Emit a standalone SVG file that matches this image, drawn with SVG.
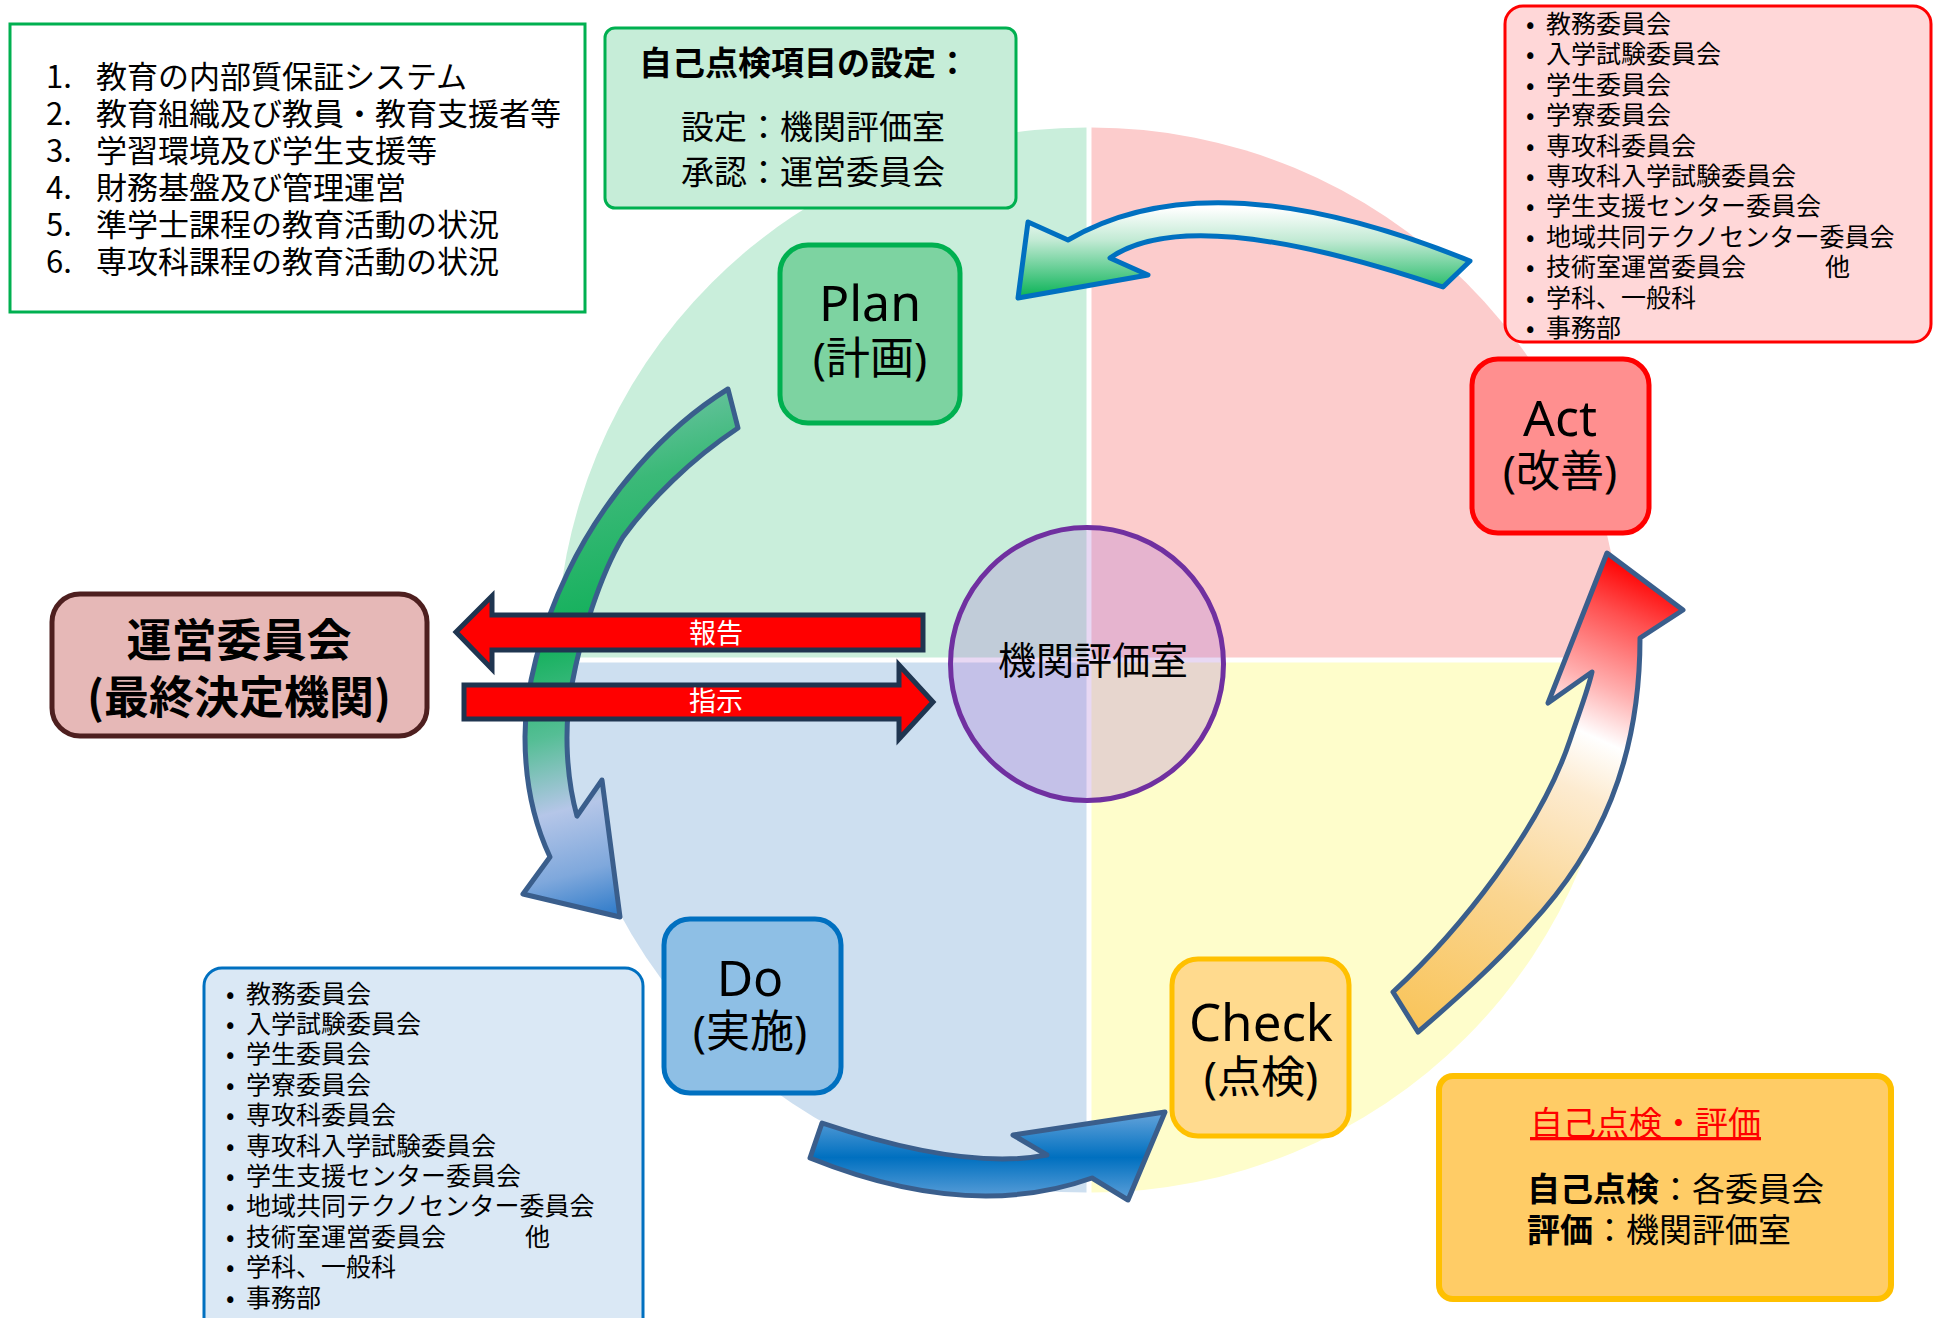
<svg xmlns="http://www.w3.org/2000/svg" width="1943" height="1318" viewBox="0 0 1943 1318">
<defs>
<style>
.t{font-family:"Noto Sans CJK JP","Noto Sans",sans-serif;fill:#000}
.lbl{font-family:"Noto Sans","Noto Sans CJK JP",sans-serif;text-anchor:middle;fill:#000}
.li{font-size:25px}
.ln{font-size:31px}
.cur{stroke:#3A5E8C;stroke-width:5;stroke-linejoin:round}
.red{fill:#FF0000;stroke:#1F3550;stroke-width:5;stroke-linejoin:miter}
.node{stroke-width:5}
.rl{font-family:"Noto Sans CJK JP",sans-serif;font-size:27px;fill:#fff;text-anchor:middle}
</style>
<linearGradient id="gTop" gradientUnits="userSpaceOnUse" x1="0" y1="208" x2="0" y2="300">
<stop offset="0" stop-color="#FFFFFF"/><stop offset="0.35" stop-color="#C2EAD4"/><stop offset="1" stop-color="#00B050"/>
</linearGradient>
<linearGradient id="gLeft" gradientUnits="userSpaceOnUse" x1="520" y1="400" x2="660" y2="917">
<stop offset="0" stop-color="#7CC7B0"/><stop offset="0.2" stop-color="#3BB978"/><stop offset="0.45" stop-color="#12B05A"/><stop offset="0.62" stop-color="#55BE95"/><stop offset="0.76" stop-color="#B5C6E8"/><stop offset="0.88" stop-color="#7FA8DC"/><stop offset="1" stop-color="#1A6FC4"/>
</linearGradient>
<linearGradient id="gBot" gradientUnits="userSpaceOnUse" x1="0" y1="1110" x2="0" y2="1205">
<stop offset="0" stop-color="#6AA6DC"/><stop offset="0.5" stop-color="#0070C0"/><stop offset="1" stop-color="#6AA6DC"/>
</linearGradient>
<linearGradient id="gRight" gradientUnits="userSpaceOnUse" x1="1410" y1="1020" x2="1620" y2="560">
<stop offset="0" stop-color="#F9C55C"/><stop offset="0.3" stop-color="#FAD590"/><stop offset="0.55" stop-color="#FDEBD0"/><stop offset="0.66" stop-color="#FFFFFF"/><stop offset="0.76" stop-color="#FFB0B0"/><stop offset="0.9" stop-color="#FF5050"/><stop offset="1" stop-color="#FF0000"/>
</linearGradient>
</defs>

<g id="quadrants">
<path d="M1086.5 657.5 L556.5 657.5 A530 530 0 0 1 1086.5 127.5 Z" fill="#C9EEDB"/>
<path d="M1091.5 657.5 L1091.5 127.5 A530 530 0 0 1 1621.5 657.5 Z" fill="#FCCCCC"/>
<path d="M1091.5 662.5 L1621.5 662.5 A530 530 0 0 1 1091.5 1192.5 Z" fill="#FEFDCB"/>
<path d="M1086.5 662.5 L1086.5 1192.5 A530 530 0 0 1 556.5 662.5 Z" fill="#CDDFF0"/>
</g>

<g id="center">
<circle cx="1087" cy="664" r="136.5" fill="rgb(177,122,212)" fill-opacity="0.29" stroke="#7030A0" stroke-width="5"/>
<text class="t" x="1093" y="674" font-size="38" text-anchor="middle">機関評価室</text>
</g>

<g id="plan">
<rect class="node" x="780" y="245" width="180" height="178" rx="28" fill="#7DD3A1" stroke="#00B050"/>
<text class="lbl" x="870" font-size="50"><tspan x="870" y="321">Plan</tspan><tspan x="870" y="374" font-size="44">(計画)</tspan></text>
</g>
<g id="act">
<rect class="node" x="1472" y="359" width="177" height="174" rx="26" fill="#FF8F8F" stroke="#FF0000"/>
<text class="lbl" font-size="50"><tspan x="1560" y="436">Act</tspan><tspan x="1560" y="487" font-size="44">(改善)</tspan></text>
</g>
<g id="do">
<rect class="node" x="664" y="919" width="177" height="174" rx="26" fill="#8EBFE5" stroke="#0070C0"/>
<text class="lbl" font-size="50"><tspan x="750" y="996">Do</tspan><tspan x="750" y="1047" font-size="44">(実施)</tspan></text>
</g>
<g id="check">
<rect class="node" x="1172" y="959" width="177" height="177" rx="26" fill="#FFDA8E" stroke="#FFC000"/>
<text class="lbl" font-size="51"><tspan x="1261" y="1041">Check</tspan><tspan x="1261" y="1093" font-size="44">(点検)</tspan></text>
</g>
<g id="committee">
<rect class="node" x="52" y="594" width="375" height="142" rx="28" fill="#E6B8B7" stroke="#4E1F1F"/>
<text class="t" font-size="45" font-weight="700" text-anchor="middle"><tspan x="239" y="657">運営委員会</tspan><tspan x="239" y="714">(最終決定機関)</tspan></text>
</g>

<g id="connectors">
<path class="cur" fill="url(#gLeft)" d="M728 389 C665 428 605 495 568 572 C540 630 525 690 525 737 C525 785 535 825 550 857 L523 894 L620 917 L602 780 L577 816 C567 780 563 730 572 684 C580 640 600 575 623 537 C650 500 690 460 738 428 Z"/>
<path fill="url(#gTop)" stroke="#0070C0" stroke-width="5" stroke-linejoin="round" d="M1018 298 L1028 222 L1068 240 Q1211 156 1470 261 L1443 287 Q1190 202 1110 258 L1148 275 Z"/>
<path class="cur" fill="url(#gBot)" d="M822 1123 Q965 1171 1047 1155 L1013 1135 L1165 1112 L1128 1200 L1092 1178 Q969 1222 810 1158 Z"/>
<path class="cur" fill="url(#gRight)" d="M1393 992 C1460 930 1540 830 1570 740 C1580 710 1588 690 1592 672 L1548 703 L1607 553 L1683 610 L1640 638 C1640 760 1600 850 1530 925 C1495 965 1455 1000 1418 1032 Z"/>
<path class="red" d="M456 632 L492 596 L492 615 L923 615 L923 650 L492 650 L492 669 Z"/>
<path class="red" d="M464 685 L899 685 L899 665 L933 702 L899 739 L899 719 L464 719 Z"/>
<text class="rl" x="716" y="643">報告</text>
<text class="rl" x="716" y="711">指示</text>
</g>

<g id="items">
<rect x="10" y="24" width="575" height="288" fill="#FFFFFF" stroke="#00B050" stroke-width="3"/>
<text class="t ln">
<tspan x="46" y="88">1.</tspan><tspan x="96" y="88">教育の内部質保証システム</tspan>
<tspan x="46" y="125">2.</tspan><tspan x="96" y="125">教育組織及び教員・教育支援者等</tspan>
<tspan x="46" y="162">3.</tspan><tspan x="96" y="162">学習環境及び学生支援等</tspan>
<tspan x="46" y="199">4.</tspan><tspan x="96" y="199">財務基盤及び管理運営</tspan>
<tspan x="46" y="236">5.</tspan><tspan x="96" y="236">準学士課程の教育活動の状況</tspan>
<tspan x="46" y="273">6.</tspan><tspan x="96" y="273">専攻科課程の教育活動の状況</tspan>
</text>
</g>

<g id="setting">
<rect x="605" y="28" width="411" height="180" rx="10" fill="#C6EDD8" stroke="#00B050" stroke-width="3"/>
<text class="t" font-size="33"><tspan x="639" y="75" font-weight="700">自己点検項目の設定：</tspan><tspan x="681" y="139">設定：機関評価室</tspan><tspan x="681" y="184">承認：運営委員会</tspan></text>
</g>

<g id="act-list">
<rect x="1505" y="6" width="426" height="336" rx="18" fill="#FFD7D8" stroke="#FF0000" stroke-width="3"/>
<text class="t li">
<tspan x="1526" y="33">•</tspan><tspan x="1546" y="33">教務委員会</tspan>
<tspan x="1526" y="63.4">•</tspan><tspan x="1546" y="63.4">入学試験委員会</tspan>
<tspan x="1526" y="93.8">•</tspan><tspan x="1546" y="93.8">学生委員会</tspan>
<tspan x="1526" y="124.2">•</tspan><tspan x="1546" y="124.2">学寮委員会</tspan>
<tspan x="1526" y="154.6">•</tspan><tspan x="1546" y="154.6">専攻科委員会</tspan>
<tspan x="1526" y="185">•</tspan><tspan x="1546" y="185">専攻科入学試験委員会</tspan>
<tspan x="1526" y="215.4">•</tspan><tspan x="1546" y="215.4">学生支援センター委員会</tspan>
<tspan x="1526" y="245.8">•</tspan><tspan x="1546" y="245.8">地域共同テクノセンター委員会</tspan>
<tspan x="1526" y="276.2">•</tspan><tspan x="1546" y="276.2">技術室運営委員会</tspan><tspan x="1825" y="276.2">他</tspan>
<tspan x="1526" y="306.6">•</tspan><tspan x="1546" y="306.6">学科、一般科</tspan>
<tspan x="1526" y="337">•</tspan><tspan x="1546" y="337">事務部</tspan>
</text>
</g>

<g id="do-list">
<rect x="204" y="968" width="439" height="380" rx="18" fill="#DAE8F5" stroke="#0070C0" stroke-width="3"/>
<text class="t li">
<tspan x="226" y="1002.5">•</tspan><tspan x="246" y="1002.5">教務委員会</tspan>
<tspan x="226" y="1032.9">•</tspan><tspan x="246" y="1032.9">入学試験委員会</tspan>
<tspan x="226" y="1063.3">•</tspan><tspan x="246" y="1063.3">学生委員会</tspan>
<tspan x="226" y="1093.7">•</tspan><tspan x="246" y="1093.7">学寮委員会</tspan>
<tspan x="226" y="1124.1">•</tspan><tspan x="246" y="1124.1">専攻科委員会</tspan>
<tspan x="226" y="1154.5">•</tspan><tspan x="246" y="1154.5">専攻科入学試験委員会</tspan>
<tspan x="226" y="1184.9">•</tspan><tspan x="246" y="1184.9">学生支援センター委員会</tspan>
<tspan x="226" y="1215.3">•</tspan><tspan x="246" y="1215.3">地域共同テクノセンター委員会</tspan>
<tspan x="226" y="1245.7">•</tspan><tspan x="246" y="1245.7">技術室運営委員会</tspan><tspan x="525" y="1245.7">他</tspan>
<tspan x="226" y="1276.1">•</tspan><tspan x="246" y="1276.1">学科、一般科</tspan>
<tspan x="226" y="1306.5">•</tspan><tspan x="246" y="1306.5">事務部</tspan>
</text>
</g>

<g id="evaluation">
<rect x="1439" y="1076" width="452" height="223" rx="14" fill="#FFCC66" stroke="#FFC000" stroke-width="6"/>
<text class="t" x="1530" y="1135" font-size="33" style="fill:#FF0000" text-decoration="underline">自己点検・評価</text>
<text class="t" font-size="33"><tspan x="1527" y="1201"><tspan font-weight="700">自己点検</tspan>：各委員会</tspan><tspan x="1527" y="1242"><tspan font-weight="700">評価</tspan>：機関評価室</tspan></text>
</g>
</svg>
